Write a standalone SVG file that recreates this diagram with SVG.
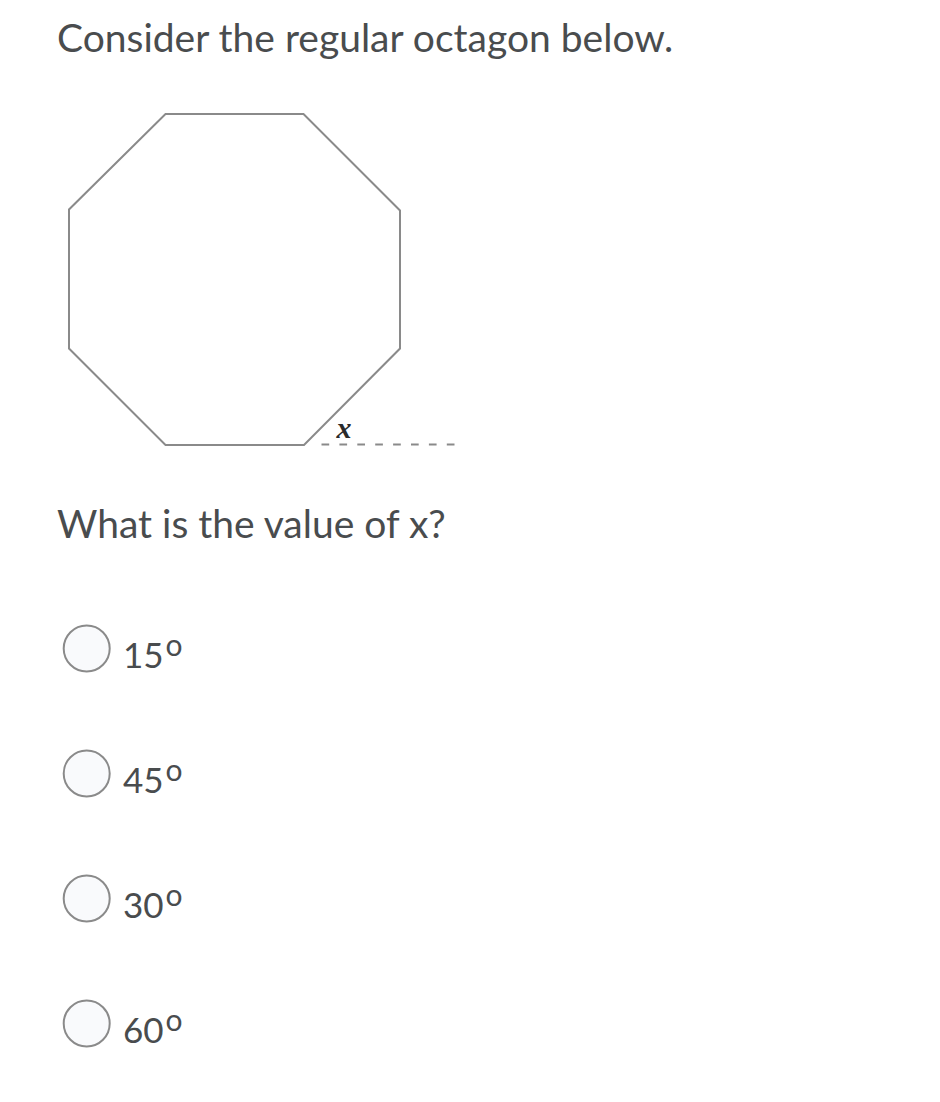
<svg xmlns="http://www.w3.org/2000/svg" width="940" height="1102" viewBox="0 0 940 1102">
<style>
.t{font-family:Lato,"Noto Sans",sans-serif;fill:#494c4e;font-size:39px}
.opt{font-family:Lato,"Noto Sans",sans-serif;fill:#494c4e;font-size:35px}
.sup{font-size:30px}
.radio{fill:#f9fafc;stroke:#8a8a8a;stroke-width:2}
.shape{fill:none;stroke:#8a8a8a;stroke-width:2;stroke-linejoin:miter}
</style>
<rect width="940" height="1102" fill="#ffffff"/>
<text class="t" x="57" y="52">Consider the regular octagon below.</text>
<g id="octagon">
<polygon class="shape" points="165.5,114 303.5,114 400,210.5 400,348.5 304,445 165.5,445 69,348.5 69,209.5"/>
<line x1="321.5" y1="444.5" x2="455" y2="444.5" stroke="#8a8a8a" stroke-width="2" stroke-dasharray="7.7 10.2"/>
<text x="344" y="438" text-anchor="middle" font-family="'Liberation Serif',serif" font-style="italic" font-weight="bold" font-size="30" fill="#2b2b2b">x</text>
</g>
<text class="t" x="57" y="538">What is the value of x?</text>
<g id="opt1">
<circle class="radio" cx="86.7" cy="648.5" r="23"/>
<text class="opt" x="123" y="668">15<tspan class="sup" dx="2" dy="-12">o</tspan></text>
</g>
<g id="opt2">
<circle class="radio" cx="86.7" cy="773.5" r="23"/>
<text class="opt" x="123" y="793">45<tspan class="sup" dx="2" dy="-12">o</tspan></text>
</g>
<g id="opt3">
<circle class="radio" cx="86.7" cy="898.5" r="23"/>
<text class="opt" x="123" y="918">30<tspan class="sup" dx="2" dy="-12">o</tspan></text>
</g>
<g id="opt4">
<circle class="radio" cx="86.7" cy="1023.5" r="23"/>
<text class="opt" x="123" y="1043">60<tspan class="sup" dx="2" dy="-12">o</tspan></text>
</g>
</svg>
